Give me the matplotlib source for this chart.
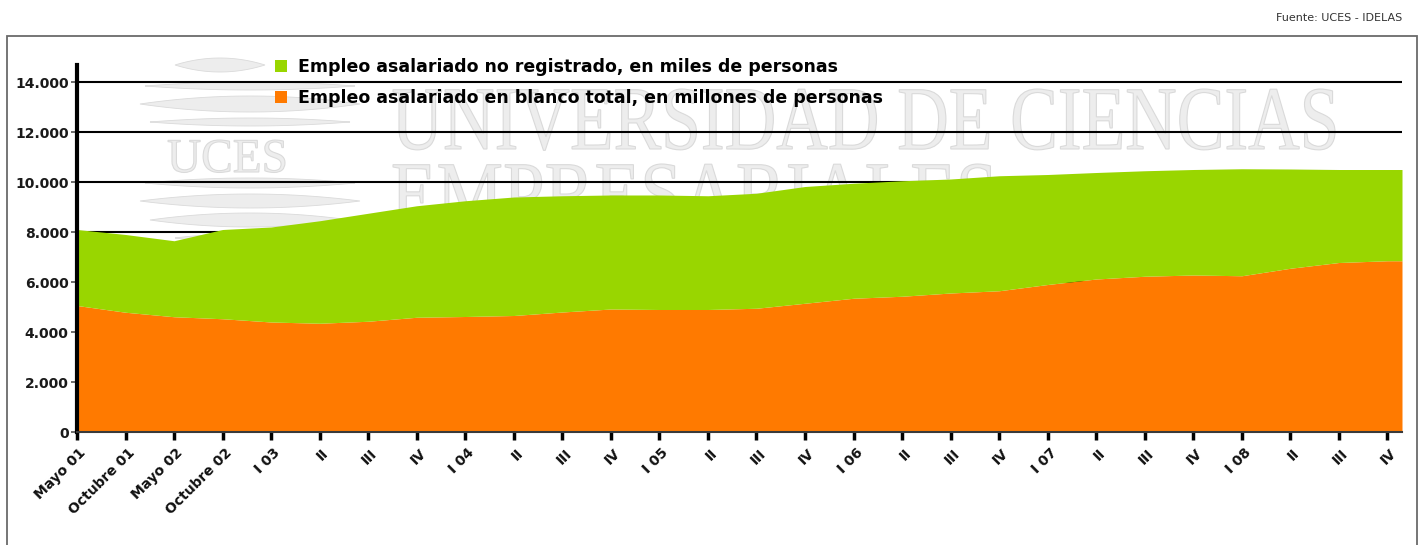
import matplotlib
matplotlib.use("Agg")
import matplotlib.pyplot as plt
import numpy as np
from matplotlib.patches import Patch, PathPatch, Rectangle
from matplotlib.textpath import TextPath
from matplotlib.font_manager import FontProperties
from matplotlib.transforms import Affine2D, IdentityTransform, ScaledTranslation
from matplotlib.ticker import FuncFormatter

# x categories (periods)
periods = [
    "Mayo 01", "Octubre 01", "Mayo 02", "Octubre 02",
    "I 03", "II", "III", "IV",
    "I 04", "II", "III", "IV",
    "I 05", "II", "III", "IV",
    "I 06", "II", "III", "IV",
    "I 07", "II", "III", "IV",
    "I 08", "II", "III", "IV",
]

# empleo asalariado en blanco total (orange, bottom layer)
blanco = [5060, 4790, 4610, 4530, 4400, 4350, 4430, 4590,
          4620, 4660, 4800, 4920, 4900, 4900, 4950, 5150,
          5350, 5430, 5560, 5650, 5900, 6120, 6230, 6280,
          6250, 6550, 6780, 6850]

# empleo asalariado no registrado (green, stacked on top)
no_registrado = [3040, 3110, 3040, 3570, 3800, 4100, 4320, 4460,
                 4630, 4740, 4650, 4560, 4580, 4550, 4600, 4670,
                 4600, 4620, 4560, 4600, 4400, 4260, 4220, 4220,
                 4280, 3970, 3720, 3650]

legend_labels = [
    "Empleo asalariado no registrado, en miles de personas",
    "Empleo asalariado en blanco total, en millones de personas",
]
y_ticks = [0, 2000, 4000, 6000, 8000, 10000, 12000, 14000]

GREEN = "#99D600"
ORANGE = "#FF7A00"
WM_FACE = "#ededed"
WM_EDGE = "#dadada"

W, H = 1426, 545
fig = plt.figure(figsize=(W / 100, H / 100), dpi=100, facecolor="white")


def add_wm_text(s, left, top, width, cap_h, family="Liberation Serif"):
    # watermark word squeezed to the box it takes in the picture
    tp = TextPath((0, 0), s, size=100, prop=FontProperties(family=family))
    ext = tp.get_extents()
    sx = width / ext.width
    sy = cap_h / ext.y1
    tr = Affine2D().translate(-ext.x0, 0).scale(sx, sy).translate(left, H - top - cap_h)
    patch = PathPatch(tp, facecolor=WM_FACE, edgecolor=WM_EDGE, linewidth=0.8,
                      transform=tr + IdentityTransform(), zorder=-5)
    fig.add_artist(patch)


# background watermark (university name + logo)
add_wm_text("UNIVERSIDAD DE CIENCIAS", 393, 89, 942, 60)
add_wm_text("EMPRESARIALES", 393, 164, 600, 60)
add_wm_text("UCES", 168, 140, 117, 32)
for yc, xa, xb, t in [(65, 175, 265, 7), (86, 145, 355, 4), (104, 140, 360, 8),
                      (122, 150, 350, 4), (183, 145, 355, 5), (201, 140, 360, 7),
                      (220, 150, 350, 7), (238, 175, 265, 3)]:
    xs = np.linspace(xa, xb, 60)
    u = (xs - (xa + xb) / 2) / ((xb - xa) / 2)
    th = t * (1 - u ** 2)
    verts = np.r_[np.c_[xs, H - (yc - th)], np.c_[xs[::-1], H - (yc + th[::-1])]]
    fig.add_artist(plt.Polygon(verts, closed=True, facecolor=WM_FACE, edgecolor=WM_EDGE,
                               linewidth=0.6, transform=IdentityTransform(), zorder=-5))

# outer frame
fig.add_artist(Rectangle((7 / W, -0.05), (1417 - 7) / W, 1 - 36 / H + 0.05,
                         transform=fig.transFigure, fill=False,
                         edgecolor="#6a6a6a", linewidth=1.3))

ax = fig.add_axes([77 / W, (H - 432) / H, (1402 - 77) / W, (432 - 64.5) / H])
ax.set_facecolor("none")

x = np.arange(len(periods))
x_end = len(periods) - 1 + 0.3
x_ext = np.append(x, x_end)
b = np.append(blanco, blanco[-1])
n = np.append(no_registrado, no_registrado[-1])

ax.fill_between(x_ext, 0, b, color=ORANGE, linewidth=0, zorder=2)
ax.fill_between(x_ext, b, b + n, color=GREEN, linewidth=0, zorder=2)

ax.set_xlim(0, x_end)
ax.set_ylim(0, 14700)
ax.set_yticks(y_ticks)
ax.yaxis.set_major_formatter(FuncFormatter(lambda v, p: f"{v:,.0f}".replace(",", ".")))
ax.set_axisbelow(True)
ax.yaxis.grid(True, color="black", linewidth=1.5)

for side in ["top", "right"]:
    ax.spines[side].set_visible(False)
ax.spines["left"].set_linewidth(3)
ax.spines["left"].set_color("black")
ax.spines["left"].set_zorder(5)
ax.spines["bottom"].set_linewidth(1.5)
ax.spines["bottom"].set_color("#3a3a3a")
ax.spines["bottom"].set_zorder(5)

ax.tick_params(axis="y", length=4, width=1.2, color="#555555", pad=2,
               labelsize=10, labelcolor="#1a1a1a")
for lab in ax.get_yticklabels():
    lab.set_fontweight("bold")

ax.set_xticks(x)
ax.set_xticklabels(periods)
ax.tick_params(axis="x", length=6, width=2.5, color="black", pad=4,
               labelsize=10, labelcolor="#111111")
offset = ScaledTranslation(0.02, 0, fig.dpi_scale_trans)
for lab in ax.get_xticklabels():
    lab.set_rotation(45)
    lab.set_rotation_mode("anchor")
    lab.set_ha("right")
    lab.set_va("top")
    lab.set_fontweight("bold")
    lab.set_transform(lab.get_transform() + offset)

handles = [Patch(facecolor=GREEN, edgecolor="none", label=legend_labels[0]),
           Patch(facecolor=ORANGE, edgecolor="none", label=legend_labels[1])]
fig.legend(handles=handles, loc="upper left", bbox_to_anchor=(275 / W, 1 - 58 / H),
           frameon=False, borderpad=0, borderaxespad=0,
           prop={"size": 12.5, "weight": "bold"},
           handlelength=0.7, handleheight=0.7, handletextpad=0.6,
           labelspacing=0.75)

fig.text(1402 / W, 1 - 18 / H, "Fuente: UCES - IDELAS", ha="right", va="center",
         fontsize=8, color="#333333")

fig.savefig("out.png", dpi=100, facecolor="white")
